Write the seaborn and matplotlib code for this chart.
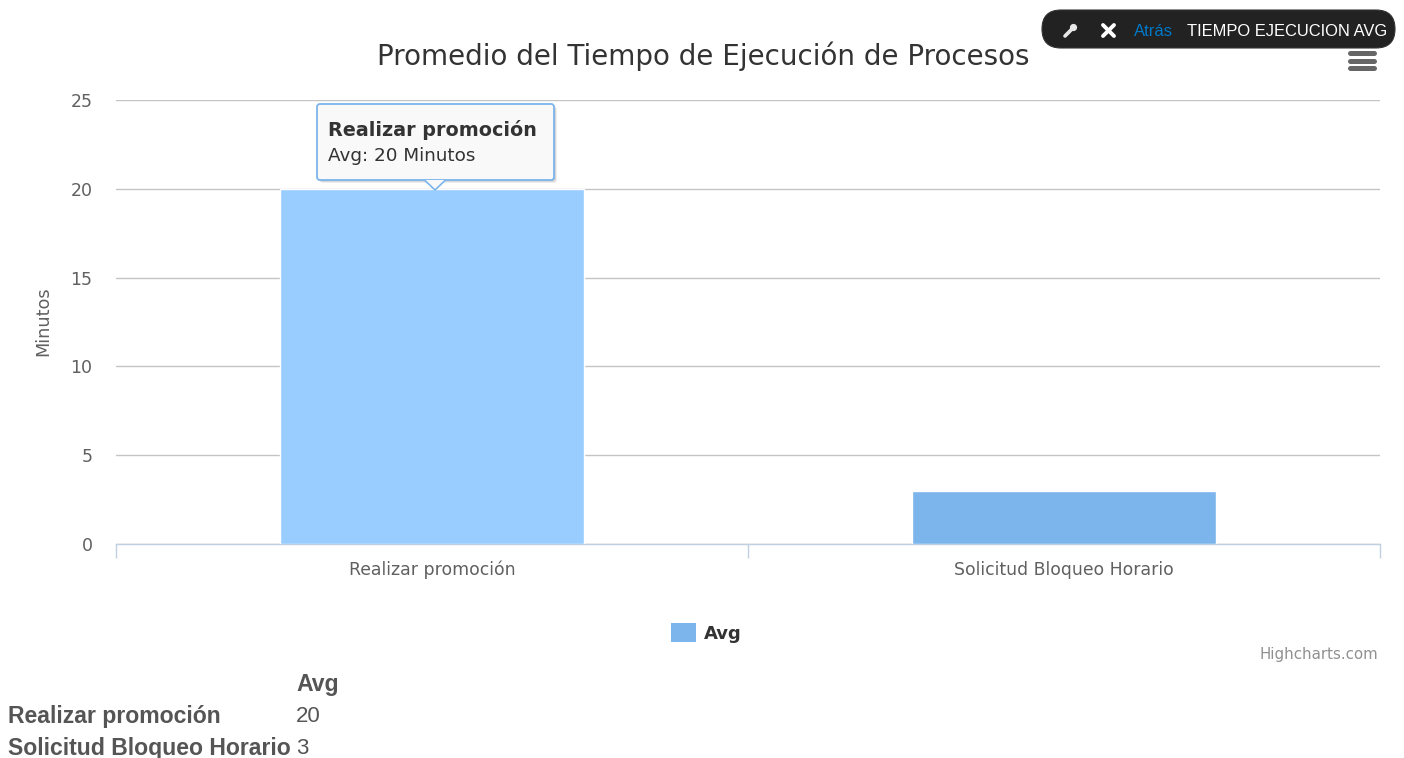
import matplotlib
matplotlib.use('Agg')
import matplotlib.pyplot as plt
import pandas as pd
import seaborn as sns
from matplotlib.patches import FancyBboxPatch, Polygon, Rectangle, Circle

# --- Dados ---
procesos = ['Realizar promoción', 'Solicitud Bloqueo Horario']
promedios = [20, 3]
cores_barras = ['#99ccff', '#7cb5ec']
yticks = [0, 5, 10, 15, 20, 25]

df = pd.DataFrame({'proceso': procesos, 'avg': promedios})

sns.set_theme(style='white')
plt.rcParams['font.family'] = ['DejaVu Sans']

W, H = 1404, 758
fig = plt.figure(figsize=(W / 100, H / 100), dpi=100)
ax = fig.add_axes([116 / W, 1 - 544 / H, (1380 - 116) / W, (544 - 100) / H])

# --- Barras ---
sns.barplot(data=df, x='proceso', y='avg', hue='proceso', palette=cores_barras,
            order=procesos, hue_order=procesos, width=0.48, legend=False, saturation=1,
            edgecolor='white', linewidth=1.0, ax=ax, zorder=3)

ax.set_xlim(-0.5, 1.5)
ax.set_ylim(0, 25)
ax.set_yticks(yticks)
ax.set_yticklabels([str(v) for v in yticks], color='#606060', fontsize=12.5)
ax.tick_params(axis='y', length=0, pad=17)
ax.set_xticks([0, 1])
ax.set_xticklabels(procesos, color='#606060', fontsize=12.4)
ax.set_xticks([-0.5, 0.5, 1.5], minor=True)
ax.tick_params(axis='x', which='major', length=0, pad=12)
ax.tick_params(axis='x', which='minor', length=10, color='#c0d0e0', width=1, bottom=True)
ax.grid(axis='y', color='#c4c4c4', linewidth=1.0, zorder=0)
ax.set_axisbelow(True)
for lado in ['top', 'left', 'right']:
    ax.spines[lado].set_visible(False)
ax.spines['bottom'].set_color('#c0d0e0')
ax.spines['bottom'].set_linewidth(1.0)
ax.set_xlabel('')
ax.set_ylabel('')

# --- Camada em pixels para os textos e enfeites ---
over = fig.add_axes([0, 0, 1, 1], zorder=10)
over.set_xlim(0, W)
over.set_ylim(H, 0)
over.axis('off')
over.patch.set_alpha(0)

over.text(703, 56, 'Promedio del Tiempo de Ejecución de Procesos', ha='center', va='center',
          fontsize=20, color='#333333')
over.text(43, 321, 'Minutos', rotation=90, ha='center', va='center', fontsize=12.8, color='#606060')

# Tooltip
for d, a in [(3, 0.15), (2, 0.2), (1, 0.25)]:
    over.add_patch(FancyBboxPatch((317 + d, 104 + d), 237, 76, boxstyle='round,pad=0,rounding_size=3',
                                  fc='#888888', ec='none', alpha=a))
over.add_patch(FancyBboxPatch((317, 104), 237, 76, boxstyle='round,pad=0,rounding_size=3',
                              fc='#f9f9f9', ec='#7cb5ec', lw=1.3))
over.add_patch(Polygon([[425, 180], [435, 190], [445, 180]], closed=True, fc='#f9f9f9', ec='none'))
over.plot([425, 435, 445], [180.5, 190, 180.5], color='#7cb5ec', lw=1.2)
over.text(328, 130, 'Realizar promoción', fontsize=13.8, fontweight='bold', color='#333333', va='center')
over.text(328, 156, 'Avg: 20 Minutos', fontsize=13.2, color='#333333', va='center')

# Legenda
over.add_patch(Rectangle((671, 623), 25, 19, fc='#7cb5ec', ec='none'))
over.text(704, 634, 'Avg', fontsize=13, fontweight='bold', color='#333333', va='center')
over.text(1378, 654, 'Highcharts.com', fontsize=10.8, color='#909090', ha='right', va='center')

# Menu
for y in [53, 61, 68]:
    over.plot([1350, 1374], [y, y], color='#666666', lw=3.6, solid_capstyle='round')

# Barra escura
over.add_patch(FancyBboxPatch((1042, 10), 353, 38, boxstyle='round,pad=0,rounding_size=19',
                              fc='#222222', ec='#333333', lw=0.8))
over.plot([1065, 1072], [36, 29], color='#e8e8e8', lw=2.6, solid_capstyle='round')
over.add_patch(Circle((1073.5, 27.5), 3.6, fc='#e8e8e8', ec='none'))
over.plot([1103, 1114], [25, 36], color='white', lw=2.8, solid_capstyle='round')
over.plot([1103, 1114], [36, 25], color='white', lw=2.8, solid_capstyle='round')
over.text(1134, 31.5, 'Atrás', family='Liberation Sans', fontsize=12, color='#0078c8', va='center')
over.text(1187, 31, 'TIEMPO EJECUCION AVG', family='Liberation Sans', fontsize=11.9, color='white', va='center')

# Tabela
bold = dict(family='Liberation Sans', fontweight='bold', color='#555555', fontsize=16.6, va='center')
plain = dict(family='Liberation Sans', color='#555555', fontsize=16, va='center')
over.text(296, 684, 'Avg', **bold)
for nome, valor, y in zip(procesos, promedios, [716, 748]):
    over.text(8, y, nome, **bold)
    over.text(296, y, str(valor), **plain)

fig.savefig('out.png', dpi=100)
